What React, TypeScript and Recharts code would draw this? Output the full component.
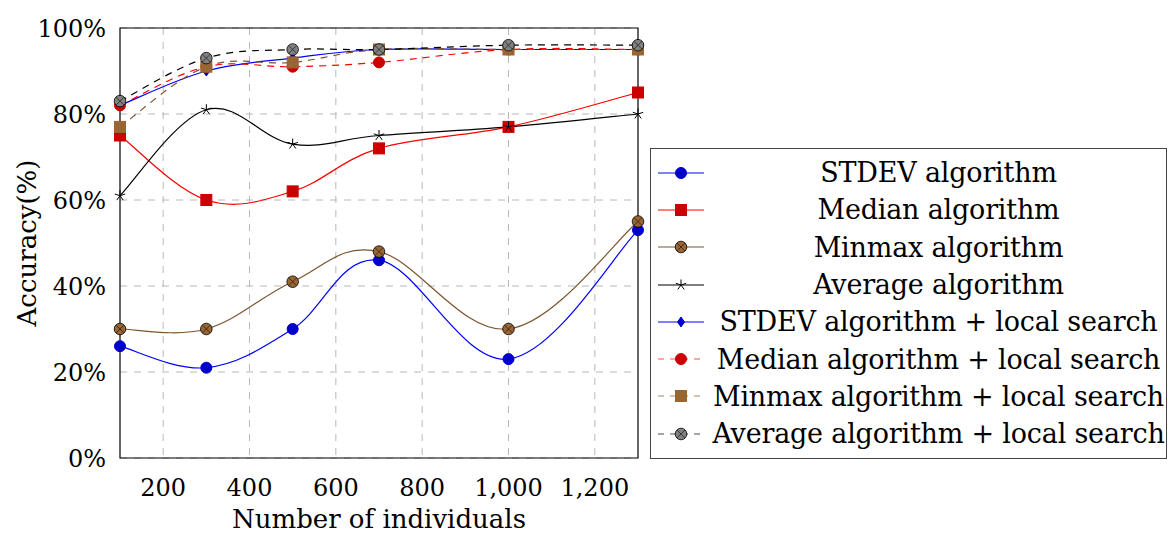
import { CartesianGrid, Line, LineChart, ReferenceArea, XAxis, YAxis } from "recharts";

const xValues = [100, 300, 500, 700, 1000, 1300];
const stdev = [26, 21, 30, 46, 23, 53];
const median = [75, 60, 62, 72, 77, 85];
const minmax = [30, 30, 41, 48, 30, 55];
const average = [61, 81, 73, 75, 77, 80];
const stdevLs = [82, 90, 93, 95, 95, 95];
const medianLs = [82, 91, 91, 92, 95, 95];
const minmaxLs = [77, 91, 92, 95, 95, 95];
const averageLs = [83, 93, 95, 95, 96, 96];

const xTicks = [200, 400, 600, 800, 1000, 1200];
const yTicks = [0, 20, 40, 60, 80, 100];

const FONT = "'DejaVu Serif', serif";

type MarkKind = "circle" | "square" | "otimes" | "star" | "diamond";

const series: Array<{ key: string; name: string; values: number[]; stroke: string; fill: string; mark: MarkKind; dashed: boolean }> = [
  { key: "stdev", name: "STDEV algorithm", values: stdev, stroke: "#0000ff", fill: "#0000cc", mark: "circle", dashed: false },
  { key: "median", name: "Median algorithm", values: median, stroke: "#ff0000", fill: "#cc0000", mark: "square", dashed: false },
  { key: "minmax", name: "Minmax algorithm", values: minmax, stroke: "#7d5530", fill: "#996633", mark: "otimes", dashed: false },
  { key: "average", name: "Average algorithm", values: average, stroke: "#000000", fill: "#000000", mark: "star", dashed: false },
  { key: "stdevLs", name: "STDEV algorithm + local search", values: stdevLs, stroke: "#0000ff", fill: "#0000cc", mark: "diamond", dashed: false },
  { key: "medianLs", name: "Median algorithm + local search", values: medianLs, stroke: "#ff0000", fill: "#cc0000", mark: "circle", dashed: true },
  { key: "minmaxLs", name: "Minmax algorithm + local search", values: minmaxLs, stroke: "#7d5530", fill: "#996633", mark: "square", dashed: true },
  { key: "averageLs", name: "Average algorithm + local search", values: averageLs, stroke: "#000000", fill: "#808080", mark: "otimes", dashed: true }
];

const data = xValues.map((x, i) => {
  const row: Record<string, number> = { x };
  series.forEach((s) => (row[s.key] = s.values[i]));
  return row;
});

// cardinal-ish spline, close to pgfplots "smooth"
function smoothCurve(k: number) {
  return (context: any) => {
    let pts: Array<[number, number]> = [];
    return {
      areaStart() {},
      areaEnd() {},
      lineStart() {
        pts = [];
      },
      lineEnd() {
        if (!pts.length) return;
        context.moveTo(pts[0][0], pts[0][1]);
        for (let i = 0; i < pts.length - 1; i++) {
          const p0 = pts[Math.max(i - 1, 0)];
          const p1 = pts[i];
          const p2 = pts[i + 1];
          const p3 = pts[Math.min(i + 2, pts.length - 1)];
          context.bezierCurveTo(
            p1[0] + k * (p2[0] - p0[0]),
            p1[1] + k * (p2[1] - p0[1]),
            p2[0] - k * (p3[0] - p1[0]),
            p2[1] - k * (p3[1] - p1[1]),
            p2[0],
            p2[1]
          );
        }
      },
      point(x: number, y: number) {
        pts.push([+x, +y]);
      }
    };
  };
}

const curve = smoothCurve(0.18);

function Mark({ kind, cx, cy, fill }: { kind: MarkKind; cx: number; cy: number; fill: string }) {
  if (kind === "circle") return <circle cx={cx} cy={cy} r={5.5} fill={fill} stroke={fill} strokeWidth={1} />;
  if (kind === "square") return <rect x={cx - 5.5} y={cy - 5.5} width={11} height={11} fill={fill} stroke={fill} strokeWidth={1} />;
  if (kind === "diamond") return <polygon points={`${cx},${cy - 5} ${cx + 3.5},${cy} ${cx},${cy + 5} ${cx - 3.5},${cy}`} fill={fill} stroke={fill} strokeWidth={1} />;
  if (kind === "otimes") {
    const d = 5.5 * 0.707;
    return (
      <g>
        <circle cx={cx} cy={cy} r={5.8} fill={fill} stroke="#000" strokeWidth={0.8} />
        <path d={`M${cx - d},${cy - d}L${cx + d},${cy + d}M${cx - d},${cy + d}L${cx + d},${cy - d}`} stroke="#000" strokeWidth={0.8} opacity={0.7} />
      </g>
    );
  }
  const arms = [0, 1, 2, 3, 4].map((i) => {
    const a = (-90 + i * 72) * (Math.PI / 180);
    return `M${cx},${cy}L${cx + 5.5 * Math.cos(a)},${cy + 5.5 * Math.sin(a)}`;
  });
  return <path d={arms.join("")} stroke="#000" strokeWidth={1} fill="none" />;
}

function XTick({ x, y, payload }: any) {
  return (
    <text x={x} y={y + 30} textAnchor="middle" fontFamily={FONT} fontSize={24} fill="#000">
      {Number(payload.value).toLocaleString("en-US")}
    </text>
  );
}

function YTick({ x, y, payload }: any) {
  return (
    <text x={x - 6} y={y + 9} textAnchor="end" fontFamily={FONT} fontSize={24} fill="#000">
      {payload.value}%
    </text>
  );
}

function LegendBox() {
  return (
    <div style={{ position: "absolute", left: 650, top: 148, width: 517, height: 311, border: "1px solid #444", boxSizing: "border-box", background: "#fff", paddingTop: 5 }}>
      {series.map((s) => (
        <div key={s.key} style={{ display: "flex", alignItems: "center", height: 37.3 }}>
          <svg width={60} height={20} style={{ flex: "none" }}>
            <line x1={7} x2={53} y1={10} y2={10} stroke={s.stroke} strokeWidth={1.2} strokeDasharray={s.dashed ? "6 6" : undefined} opacity={s.dashed ? 0.7 : 1} />
            <Mark kind={s.mark} cx={30} cy={10} fill={s.fill} />
          </svg>
          <span style={{ flex: 1, textAlign: "center", fontFamily: FONT, fontSize: 27, color: "#000", whiteSpace: "nowrap", letterSpacing: -0.2 }}>{s.name}</span>
        </div>
      ))}
    </div>
  );
}

export default function App() {
  return (
    <div style={{ position: "absolute", left: 0, top: 0, width: 1168, height: 534, background: "#fff" }}>
      <LineChart width={1168} height={534} data={data} margin={{ top: 28, right: 530, bottom: 0, left: 0 }}>
        <CartesianGrid stroke="#b8b8b8" strokeDasharray="7 7" horizontalValues={yTicks} verticalValues={xTicks} />
        <XAxis
          dataKey="x"
          type="number"
          domain={[100, 1300]}
          ticks={xTicks}
          tick={<XTick />}
          tickLine={false}
          axisLine={false}
          height={76}
          label={{ value: "Number of individuals", position: "insideBottom", offset: 6, fontFamily: FONT, fontSize: 26, fill: "#000" }}
        />
        <YAxis
          type="number"
          domain={[0, 100]}
          ticks={yTicks}
          tick={<YTick />}
          tickLine={false}
          axisLine={false}
          width={120}
          label={{ value: "Accuracy(%)", angle: -90, position: "insideLeft", offset: 27, fontFamily: FONT, fontSize: 26, fill: "#000", style: { textAnchor: "middle" } }}
        />
        <ReferenceArea x1={100} x2={1300} y1={0} y2={100} fill="none" stroke="#000" strokeWidth={1.2} ifOverflow="visible" />
        {series.map((s) => (
          <Line
            key={s.key}
            dataKey={s.key}
            name={s.name}
            type={curve as any}
            stroke={s.stroke}
            strokeWidth={1.2}
            strokeDasharray={s.dashed ? "7 6" : undefined}
            isAnimationActive={false}
            dot={(p: any) => <Mark key={`${s.key}-${p.index}`} kind={s.mark} cx={p.cx} cy={p.cy} fill={s.fill} />}
            activeDot={false}
          />
        ))}
      </LineChart>
      <LegendBox />
    </div>
  );
}
